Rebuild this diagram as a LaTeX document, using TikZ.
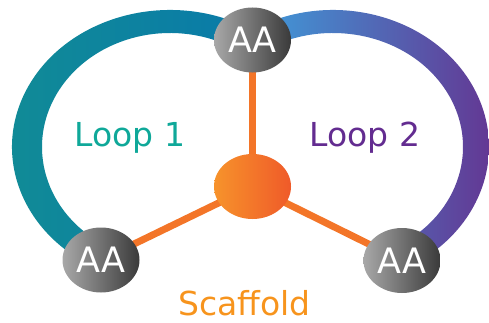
\documentclass[tikz,border=0pt]{standalone}
\usepackage{fontspec}
\setmainfont{DejaVu Sans}
\usetikzlibrary{shapes.geometric}
\pgfdeclarelayer{background}
\pgfsetlayers{background,main}
\definecolor{loopAl}{HTML}{118C95}
\definecolor{loopAr}{HTML}{0A7BA8}
\definecolor{loopBl}{HTML}{4196D6}
\definecolor{loopBr}{HTML}{66308E}
\definecolor{txtA}{HTML}{0FA899}
\definecolor{txtB}{HTML}{632C90}
\definecolor{txtS}{HTML}{F7941D}
\definecolor{orl}{HTML}{F7932B}
\definecolor{orr}{HTML}{EF5A29}
\definecolor{stick}{HTML}{F37528}
\definecolor{aal}{HTML}{A8A8A8}
\definecolor{aar}{HTML}{3A3A3A}
\tikzset{
  aanode/.style={ellipse, minimum width=77pt, minimum height=65pt, inner sep=0pt,
    left color=aal, right color=aar, text=white, font=\fontsize{35}{38}\selectfont},
  corenode/.style={ellipse, minimum width=77pt, minimum height=65pt, inner sep=0pt,
    left color=orl, right color=orr},
  stickline/.style={line width=7pt, draw=stick},
  lbl/.style={font=\fontsize{33}{36}\selectfont, inner sep=0pt, anchor=base}
}
\begin{document}
\begin{tikzpicture}[x=1pt,y=1pt]
\useasboundingbox (0,0) rectangle (489,322);
% nodes
\node[corenode] (core) at (252.5,135.5) {};
\node[aanode] (top) at (252.5,282) {AA};
\node[aanode] (bl) at (101,62) {AA};
\node[aanode] (br) at (402,61.5) {AA};
\coordinate (c1) at (170,175);
\coordinate (c2) at (333,175);
\begin{pgfonlayer}{background}
\shade[left color=loopAl, right color=loopAr]
  ([shift={(65:158pt and 137pt)}]c1) arc[start angle=65, end angle=240, x radius=158pt, y radius=137pt]
  -- ([shift={(240:128pt and 114pt)}]c1) arc[start angle=240, end angle=65, x radius=128pt, y radius=114pt] -- cycle;
\shade[left color=loopBl, right color=loopBr]
  ([shift={(115:156pt and 137pt)}]c2) arc[start angle=115, end angle=-60, x radius=156pt, y radius=137pt]
  -- ([shift={(-60:130pt and 114pt)}]c2) arc[start angle=-60, end angle=115, x radius=130pt, y radius=114pt] -- cycle;
\draw[stickline] (core.center) -- (top.center);
\draw[stickline] (core.center) -- (bl.center);
\draw[stickline] (core.center) -- (br.center);
\end{pgfonlayer}
\node[lbl, text=txtA] (l1) at (130,176) {Loop 1};
\node[lbl, text=txtB] (l2) at (365,176) {Loop 2};
\node[lbl, text=txtS] (sc) at (244.5,7) {Scaffold};
\end{tikzpicture}
\end{document}
